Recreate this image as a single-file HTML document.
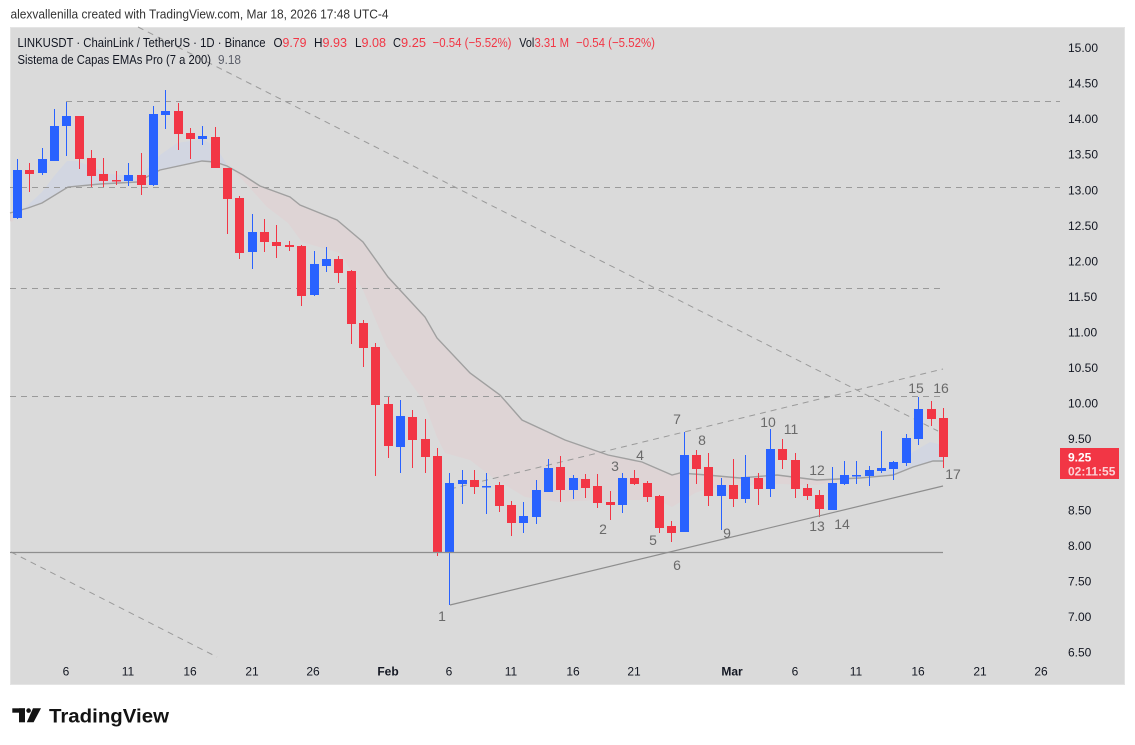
<!DOCTYPE html>
<html>
<head>
<meta charset="utf-8">
<style>
html,body{margin:0;padding:0;background:#fff;width:1135px;height:745px;overflow:hidden;}
svg{display:block;}
text{white-space:pre;}
</style>
</head>
<body>
<svg width="1135" height="745" viewBox="0 0 1135 745" xmlns="http://www.w3.org/2000/svg" font-family="'Liberation Sans', sans-serif">
<rect width="1135" height="745" fill="#ffffff"/>
<rect x="10.5" y="27.5" width="1114" height="657" fill="#dadada" stroke="#e4e4e4" stroke-width="1"/>

<!-- EMA ribbon fills -->
<polygon fill="#d2d6e1" points="12,214 20,211 28,205 42,192 55,175 67,161 77,161 95,168 110,174 140,177 160,155 177,143 203,139 217,148 227,165 215,162 202,161 160,170 137,182 100,184 68,187 42,203 28,208 20,211 12,214"/>
<polygon fill="#ded4d5" points="227,165 237,174 250,188 267,207 288,223 302,242 340,253 363,290 387,347 405,375 423,400 437,437 445,453 470,460 492,477 525,497 558,502 598,500 625,500 658,500 672,507 695,493 710,488 740,486 780,484 817,485 850,479 850,478.5 817,480 777,475 740,478 707,475 680,473 672,475 642,462 608,455 565,440 522,420 500,395 470,373 437,338 425,317 388,277 363,242 337,220 300,205 290,197 260,186 243,175 227,166"/>
<polygon fill="#d2d6e1" points="850,479 870,474 893,468 913,452 930,442 943,445 943,461 933,461 913,467 893,475 860,478 850,478.5"/>
<polygon fill="#ded4d5" points="10,212 20,211 12,222 10,221"/>
<!-- EMA line -->
<polyline fill="none" stroke="#a0a0a0" stroke-width="1.4" points="10,213 28,208 42,203 68,187 100,184 137,182 160,170 202,161 215,162 227,166 243,175 260,186 290,197 300,205 337,220 363,242 388,277 425,317 437,338 470,373 500,395 522,420 565,440 608,455 642,462 672,475 680,473 707,475 740,478 777,475 817,480 860,478 893,475 913,467 933,461 943,461"/>

<!-- horizontal dashed levels -->
<g stroke="#9a9a9a" stroke-width="1" stroke-dasharray="6 5" fill="none">
<line x1="66" y1="101.5" x2="1060" y2="101.5"/>
<line x1="10" y1="187.5" x2="1060" y2="187.5"/>
<line x1="10" y1="288.5" x2="940" y2="288.5"/>
<line x1="10" y1="396.5" x2="940" y2="396.5"/>
<line x1="138" y1="27" x2="938" y2="431"/>
<line x1="11" y1="552" x2="217" y2="657"/>
<line x1="450" y1="489" x2="943" y2="369"/>
</g>

<!-- candles -->
<g fill="#2962ff">
<rect x="17" y="159" width="1" height="60"/><rect x="13" y="170" width="9" height="48"/>
<rect x="42" y="148" width="1" height="27"/><rect x="38" y="159" width="9" height="14"/>
<rect x="54" y="109" width="1" height="52"/><rect x="50" y="126" width="9" height="35"/>
<rect x="66" y="102" width="1" height="54"/><rect x="62" y="116" width="9" height="10"/>
<rect x="128" y="163" width="1" height="23"/><rect x="124" y="175" width="9" height="6"/>
<rect x="153" y="106" width="1" height="80"/><rect x="149" y="114" width="9" height="71"/>
<rect x="165" y="90" width="1" height="39"/><rect x="161" y="111" width="9" height="4"/>
<rect x="202" y="126" width="1" height="19"/><rect x="198" y="136" width="9" height="3"/>
<rect x="252" y="214" width="1" height="55"/><rect x="248" y="232" width="9" height="20"/>
<rect x="314" y="251" width="1" height="45"/><rect x="310" y="264" width="9" height="31"/>
<rect x="326" y="247" width="1" height="25"/><rect x="322" y="259" width="9" height="7"/>
<rect x="400" y="400" width="1" height="73"/><rect x="396" y="416" width="9" height="31"/>
<rect x="449" y="473" width="1" height="132"/><rect x="445" y="483" width="9" height="69"/>
<rect x="462" y="470" width="1" height="34"/><rect x="458" y="480" width="9" height="4"/>
<rect x="486" y="473" width="1" height="41"/><rect x="482" y="486" width="9" height="1.5"/>
<rect x="523" y="502" width="1" height="31"/><rect x="519" y="516" width="9" height="7"/>
<rect x="536" y="480" width="1" height="44"/><rect x="532" y="490" width="9" height="27"/>
<rect x="548" y="459" width="1" height="33"/><rect x="544" y="468" width="9" height="24"/>
<rect x="573" y="475" width="1" height="24"/><rect x="569" y="478" width="9" height="12"/>
<rect x="622" y="473" width="1" height="40"/><rect x="618" y="478" width="9" height="27"/>
<rect x="684" y="432" width="1" height="100"/><rect x="680" y="455" width="9" height="77"/>
<rect x="721" y="478" width="1" height="52"/><rect x="717" y="485" width="9" height="11"/>
<rect x="745" y="455" width="1" height="48"/><rect x="741" y="477" width="9" height="22"/>
<rect x="770" y="429" width="1" height="68"/><rect x="766" y="449" width="9" height="40"/>
<rect x="832" y="467" width="1" height="43"/><rect x="828" y="483" width="9" height="27"/>
<rect x="844" y="461" width="1" height="24"/><rect x="840" y="475" width="9" height="9"/>
<rect x="856" y="461" width="1" height="23"/><rect x="852" y="475" width="9" height="1.5"/>
<rect x="869" y="466" width="1" height="20"/><rect x="865" y="470" width="9" height="6"/>
<rect x="881" y="431" width="1" height="42"/><rect x="877" y="468" width="9" height="3"/>
<rect x="893" y="461" width="1" height="19"/><rect x="889" y="462" width="9" height="7"/>
<rect x="906" y="434" width="1" height="32"/><rect x="902" y="438" width="9" height="25"/>
<rect x="918" y="397" width="1" height="48"/><rect x="914" y="409" width="9" height="30"/>
</g>
<g fill="#f23645">
<rect x="29" y="163" width="1" height="29"/><rect x="25" y="170" width="9" height="4"/>
<rect x="79" y="116" width="1" height="53"/><rect x="75" y="116" width="9" height="43"/>
<rect x="91" y="150" width="1" height="37"/><rect x="87" y="158" width="9" height="18"/>
<rect x="103" y="158" width="1" height="29"/><rect x="99" y="174" width="9" height="7"/>
<rect x="116" y="171" width="1" height="14"/><rect x="112" y="180" width="9" height="1.5"/>
<rect x="141" y="153" width="1" height="42"/><rect x="137" y="175" width="9" height="10"/>
<rect x="178" y="103" width="1" height="47"/><rect x="174" y="111" width="9" height="23"/>
<rect x="190" y="128" width="1" height="31"/><rect x="186" y="133" width="9" height="6"/>
<rect x="215" y="127" width="1" height="41"/><rect x="211" y="137" width="9" height="31"/>
<rect x="227" y="168" width="1" height="66"/><rect x="223" y="168" width="9" height="31"/>
<rect x="239" y="196" width="1" height="63"/><rect x="235" y="198" width="9" height="55"/>
<rect x="264" y="219" width="1" height="33"/><rect x="260" y="232" width="9" height="10"/>
<rect x="276" y="225" width="1" height="33"/><rect x="272" y="242" width="9" height="4"/>
<rect x="289" y="241" width="1" height="10"/><rect x="285" y="245" width="9" height="2"/>
<rect x="301" y="245" width="1" height="61"/><rect x="297" y="246" width="9" height="50"/>
<rect x="338" y="256" width="1" height="27"/><rect x="334" y="259" width="9" height="14"/>
<rect x="351" y="270" width="1" height="74"/><rect x="347" y="271" width="9" height="53"/>
<rect x="363" y="320" width="1" height="47"/><rect x="359" y="323" width="9" height="25"/>
<rect x="375" y="343" width="1" height="133"/><rect x="371" y="347" width="9" height="58"/>
<rect x="388" y="397" width="1" height="61"/><rect x="384" y="404" width="9" height="42"/>
<rect x="412" y="410" width="1" height="58"/><rect x="408" y="417" width="9" height="23"/>
<rect x="425" y="419" width="1" height="54"/><rect x="421" y="439" width="9" height="18"/>
<rect x="437" y="448" width="1" height="108"/><rect x="433" y="456" width="9" height="96"/>
<rect x="474" y="470" width="1" height="24"/><rect x="470" y="480" width="9" height="7"/>
<rect x="499" y="482" width="1" height="30"/><rect x="495" y="485" width="9" height="21"/>
<rect x="511" y="501" width="1" height="35"/><rect x="507" y="505" width="9" height="18"/>
<rect x="560" y="456" width="1" height="46"/><rect x="556" y="467" width="9" height="23"/>
<rect x="585" y="474" width="1" height="24"/><rect x="581" y="479" width="9" height="9"/>
<rect x="597" y="474" width="1" height="34"/><rect x="593" y="486" width="9" height="17"/>
<rect x="610" y="491" width="1" height="29"/><rect x="606" y="502" width="9" height="3"/>
<rect x="634" y="470" width="1" height="15"/><rect x="630" y="478" width="9" height="6"/>
<rect x="647" y="481" width="1" height="21"/><rect x="643" y="483" width="9" height="14"/>
<rect x="659" y="495" width="1" height="38"/><rect x="655" y="496" width="9" height="32"/>
<rect x="671" y="521" width="1" height="21"/><rect x="667" y="526" width="9" height="7"/>
<rect x="696" y="450" width="1" height="34"/><rect x="692" y="455" width="9" height="14"/>
<rect x="708" y="453" width="1" height="53"/><rect x="704" y="467" width="9" height="29"/>
<rect x="733" y="459" width="1" height="48"/><rect x="729" y="485" width="9" height="14"/>
<rect x="758" y="473" width="1" height="32"/><rect x="754" y="478" width="9" height="11"/>
<rect x="782" y="439" width="1" height="30"/><rect x="778" y="449" width="9" height="11"/>
<rect x="795" y="453" width="1" height="45"/><rect x="791" y="460" width="9" height="29"/>
<rect x="807" y="484" width="1" height="16"/><rect x="803" y="488" width="9" height="8"/>
<rect x="819" y="490" width="1" height="27"/><rect x="815" y="495" width="9" height="14"/>
<rect x="931" y="401" width="1" height="25"/><rect x="927" y="409" width="9" height="10"/>
<rect x="943" y="408" width="1" height="60"/><rect x="939" y="418" width="9" height="39"/>
</g>

<!-- solid trend lines -->
<g stroke="#8e8e8e" stroke-width="1.2" fill="none">
<line x1="10" y1="552.5" x2="943" y2="552.5"/>
<line x1="450" y1="605" x2="943" y2="486"/>
</g>

<!-- wave labels -->
<g font-size="14" fill="#6a6a6a" text-anchor="middle">
<text x="442" y="621">1</text>
<text x="603" y="534">2</text>
<text x="615" y="471">3</text>
<text x="640" y="460">4</text>
<text x="653" y="545">5</text>
<text x="677" y="570">6</text>
<text x="677" y="424">7</text>
<text x="702" y="445">8</text>
<text x="727" y="538">9</text>
<text x="768" y="427">10</text>
<text x="791" y="434">11</text>
<text x="817" y="475">12</text>
<text x="817" y="531">13</text>
<text x="842" y="529">14</text>
<text x="916" y="393">15</text>
<text x="941" y="393">16</text>
<text x="953" y="479">17</text>
</g>

<!-- price axis -->
<g font-size="12" fill="#131722">
<text x="1068" y="52">15.00</text>
<text x="1068" y="87.6">14.50</text>
<text x="1068" y="123.2">14.00</text>
<text x="1068" y="158.7">13.50</text>
<text x="1068" y="194.3">13.00</text>
<text x="1068" y="229.9">12.50</text>
<text x="1068" y="265.4">12.00</text>
<text x="1068" y="301">11.50</text>
<text x="1068" y="336.5">11.00</text>
<text x="1068" y="372.1">10.50</text>
<text x="1068" y="407.6">10.00</text>
<text x="1068" y="443.2">9.50</text>
<text x="1068" y="514.3">8.50</text>
<text x="1068" y="549.9">8.00</text>
<text x="1068" y="585.4">7.50</text>
<text x="1068" y="621">7.00</text>
<text x="1068" y="656.5">6.50</text>
</g>
<rect x="1060" y="448" width="59" height="31" fill="#f23645"/>
<text x="1068" y="461.5" font-size="12" font-weight="bold" fill="#ffffff">9.25</text>
<text x="1068" y="475.5" font-size="12" font-weight="bold" fill="#fcd2d6">02:11:55</text>

<!-- time axis -->
<g font-size="12" fill="#131722" text-anchor="middle">
<text x="66" y="675.5">6</text>
<text x="128" y="675.5">11</text>
<text x="190" y="675.5">16</text>
<text x="252" y="675.5">21</text>
<text x="313" y="675.5">26</text>
<text x="388" y="675.5" font-weight="bold">Feb</text>
<text x="449" y="675.5">6</text>
<text x="511" y="675.5">11</text>
<text x="573" y="675.5">16</text>
<text x="634" y="675.5">21</text>
<text x="732" y="675.5" font-weight="bold">Mar</text>
<text x="795" y="675.5">6</text>
<text x="856" y="675.5">11</text>
<text x="918" y="675.5">16</text>
<text x="980" y="675.5">21</text>
<text x="1041" y="675.5">26</text>
</g>

<!-- header -->
<text x="10.5" y="18.5" font-size="13" fill="#333333" textLength="378" lengthAdjust="spacingAndGlyphs">alexvallenilla created with TradingView.com, Mar 18, 2026 17:48 UTC-4</text>

<!-- legend -->
<g font-size="13">
<text x="17.5" y="47" fill="#131722" textLength="248" lengthAdjust="spacingAndGlyphs">LINKUSDT · ChainLink / TetherUS · 1D · Binance</text>
<text x="273.5" y="47" fill="#131722" textLength="9" lengthAdjust="spacingAndGlyphs">O</text>
<text x="282.5" y="47" fill="#f23645" textLength="24" lengthAdjust="spacingAndGlyphs">9.79</text>
<text x="314" y="47" fill="#131722" textLength="8.5" lengthAdjust="spacingAndGlyphs">H</text>
<text x="322.5" y="47" fill="#f23645" textLength="24.5" lengthAdjust="spacingAndGlyphs">9.93</text>
<text x="355" y="47" fill="#131722" textLength="6.5" lengthAdjust="spacingAndGlyphs">L</text>
<text x="361.5" y="47" fill="#f23645" textLength="24.5" lengthAdjust="spacingAndGlyphs">9.08</text>
<text x="393" y="47" fill="#131722" textLength="8" lengthAdjust="spacingAndGlyphs">C</text>
<text x="401" y="47" fill="#f23645" textLength="25" lengthAdjust="spacingAndGlyphs">9.25</text>
<text x="432.5" y="47" fill="#f23645" textLength="79" lengthAdjust="spacingAndGlyphs">−0.54 (−5.52%)</text>
<text x="519.3" y="47" fill="#131722" textLength="15" lengthAdjust="spacingAndGlyphs">Vol</text>
<text x="534.5" y="47" fill="#f23645" textLength="34.5" lengthAdjust="spacingAndGlyphs">3.31 M</text>
<text x="576" y="47" fill="#f23645" textLength="79" lengthAdjust="spacingAndGlyphs">−0.54 (−5.52%)</text>
<text x="17.5" y="64" fill="#131722" textLength="193.5" lengthAdjust="spacingAndGlyphs">Sistema de Capas EMAs Pro (7 a 200)</text>
<text x="218" y="64" fill="#5d606b" textLength="23" lengthAdjust="spacingAndGlyphs">9.18</text>
</g>

<!-- TradingView logo -->
<g fill="#131313">
<rect x="12.3" y="708.3" width="12.7" height="4.4"/>
<rect x="19" y="708.3" width="6" height="14"/>
<circle cx="28.6" cy="710.6" r="2.3"/>
<polygon points="33,708.3 41,708.3 33.6,722.3 26.8,722.3"/>
</g>
<text x="49" y="722.3" font-size="19.5" font-weight="bold" fill="#131313" textLength="120" lengthAdjust="spacingAndGlyphs">TradingView</text>
</svg>
</body>
</html>
